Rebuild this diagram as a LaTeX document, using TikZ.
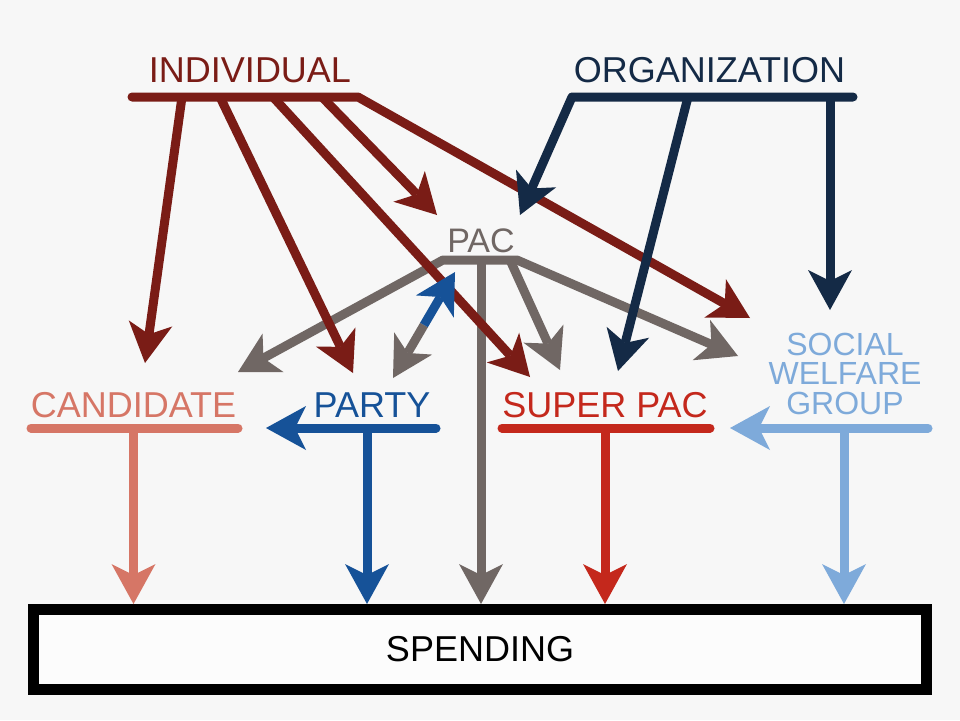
\documentclass[tikz,border=0pt]{standalone}
\usepackage{fontspec}
\setmainfont{Liberation Sans}
\usepackage{xcolor}
\usepackage{tikz}
\usetikzlibrary{arrows.meta,calc}
\definecolor{bg}{RGB}{247,247,247}
\definecolor{indred}{RGB}{122,28,22}
\definecolor{orgblue}{RGB}{20,42,70}
\definecolor{pacgray}{RGB}{112,103,100}
\definecolor{candred}{RGB}{214,118,102}
\definecolor{partyblue}{RGB}{22,82,152}
\definecolor{spacred}{RGB}{196,40,28}
\definecolor{swgblue}{RGB}{126,170,218}

\begin{document}
\begin{tikzpicture}[x=1pt,y=-1pt,line width=9pt]
\tikzset{lbl/.style={inner sep=0pt,anchor=base,font=\fontsize{36}{29.5}\selectfont},
  big/.tip={Stealth[length=40pt,width=44pt,inset=11pt,line width=0pt]},
  barcap/.style={line cap=round,line join=round}}
\path[fill=bg,use as bounding box] (0,0) rectangle (960,720);
% labels
\node[lbl,text=indred] (ind) at (250,82) {INDIVIDUAL};
\node[lbl,text=orgblue] (org) at (709.5,82) {ORGANIZATION};
\node[lbl,text=pacgray,font=\fontsize{34}{34}\selectfont] (pac) at (481,252) {PAC};
\node[lbl,text=candred] (cand) at (133.5,417) {CANDIDATE};
\node[lbl,text=partyblue] (party) at (372,417) {PARTY};
\node[lbl,text=spacred] (spac) at (605,417) {SUPER PAC};
\node[lbl,text=swgblue,anchor=center,align=center,font=\fontsize{32}{29.5}\selectfont] (swg) at (845,373.5) {SOCIAL\\WELFARE\\GROUP};
\node[draw=black,line width=11pt,fill=white!60!bg,minimum width=893.5pt,minimum height=80pt,inner sep=0pt,
  font=\fontsize{36}{40}\selectfont] (spend) at (480,649.5) {SPENDING};
% bars
\coordinate (ind-w) at (132,97); \coordinate (ind-e) at (358,97);
\coordinate (org-w) at (572,97); \coordinate (org-e) at (853,97);
\coordinate (pac-w) at (443,260); \coordinate (pac-e) at (517,260);
\coordinate (cand-w) at (31,428); \coordinate (cand-e) at (238,428);
\coordinate (party-e) at (436,428);
\coordinate (spac-w) at (502,428); \coordinate (spac-e) at (710,428);
\coordinate (swg-e) at (928,428);
\foreach \n/\x in {1/182,2/220,3/273,4/322} \coordinate (ind-\n) at (\x,97);
\foreach \n/\x in {1/688,2/830} \coordinate (org-\n) at (\x,97);
\coordinate (pac-m) at (481,260); \coordinate (pac-r) at (510,260);
\coordinate (cand-d) at (133.5,428); \coordinate (party-d) at (367,428);
\coordinate (spac-d) at (605,428); \coordinate (swg-d) at (844,428);
% arrow ends
\coordinate (cand-i) at (145,363); \coordinate (cand-p) at (238,372); \coordinate (cand-y) at (266,428);
\coordinate (party-i) at (353,373); \coordinate (party-p) at (393,378);
\coordinate (pac-i) at (437,215); \coordinate (pac-o) at (520,215); \coordinate (pac-y) at (455,272);
\coordinate (spac-i) at (530,377); \coordinate (spac-p) at (560,370); \coordinate (spac-o) at (618,371);
\coordinate (spac-s) at (730,428);
\coordinate (swg-i) at (750,318); \coordinate (swg-p) at (738,356); \coordinate (swg-o) at (830,310);
% pac
\draw[pacgray,barcap,big-big] (cand-p) -- (pac-w) -- (pac-e) -- (swg-p);
\draw[pacgray,-big] (pac-m) -- (pac-m |- spend.north);
\draw[pacgray,-big] (pac-r) -- (spac-p);
% individual
\draw[indred,barcap,-big] (ind-w) -- (ind-e) -- (swg-i);
\draw[indred,-big] (ind-1) -- (cand-i);
\draw[indred,-big] (ind-2) -- (party-i);
\draw[indred,-big] (ind-3) -- (spac-i);
\draw[indred,-big] (ind-4) -- (pac-i);
% party <-> pac
\coordinate (pty-mid) at ($(party-p)!0.5!(pac-y)$);
\draw[pacgray,-big] (pty-mid) -- (party-p);
\draw[partyblue,-big] (pty-mid) -- (pac-y);
% organization
\draw[orgblue,barcap,big-] (pac-o) -- (org-w) -- (org-e);
\draw[orgblue,-big] (org-1) -- (spac-o);
\draw[orgblue,-big] (org-2) -- (swg-o);
% lower row
\draw[candred,barcap] (cand-w) -- (cand-e);
\draw[candred,-big] (cand-d) -- (cand-d |- spend.north);
\draw[partyblue,barcap,-big] (party-e) -- (cand-y);
\draw[partyblue,-big] (party-d) -- (party-d |- spend.north);
\draw[spacred,barcap] (spac-w) -- (spac-e);
\draw[spacred,-big] (spac-d) -- (spac-d |- spend.north);
\draw[swgblue,barcap,-big] (swg-e) -- (spac-s);
\draw[swgblue,-big] (swg-d) -- (swg-d |- spend.north);
\end{tikzpicture}
\end{document}
